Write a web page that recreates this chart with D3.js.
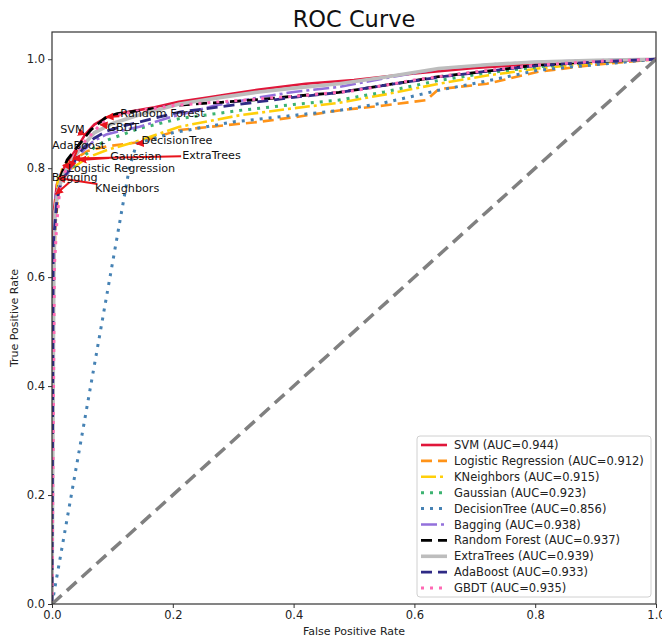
<!DOCTYPE html>
<html>
<head>
<meta charset="utf-8">
<script src="https://cdn.jsdelivr.net/npm/d3@7"></script>
<style>
body { margin: 0; background: #fff; }
svg text { font-family: "DejaVu Sans", sans-serif; }
</style>
</head>
<body>
<div id="roc"></div>
<script>
// models and their AUC
const models = ["SVM", "Logistic Regression", "KNeighbors", "Gaussian", "DecisionTree",
  "Bagging", "Random Forest", "ExtraTrees", "AdaBoost", "GBDT"];
const aucs = [0.944, 0.912, 0.915, 0.923, 0.856, 0.938, 0.937, 0.939, 0.933, 0.935];

// ROC points
const svmFpr = [0, 0.001, 0.003, 0.008, 0.015, 0.025, 0.04, 0.055, 0.07, 0.09, 0.12, 0.17, 0.21, 0.26, 0.3, 0.34, 0.42, 0.5, 0.6, 0.7, 0.8, 0.9, 1];
const svmTpr = [0, 0.6, 0.72, 0.77, 0.79, 0.81, 0.835, 0.862, 0.88, 0.893, 0.902, 0.912, 0.922, 0.93, 0.937, 0.944, 0.955, 0.962, 0.974, 0.984, 0.991, 0.997, 1];
const lrFpr = [0, 0.002, 0.006, 0.012, 0.018, 0.035, 0.06, 0.09, 0.145, 0.211, 0.28, 0.343, 0.41, 0.475, 0.55, 0.62, 0.64, 0.72, 0.805, 0.9, 1];
const lrTpr = [0, 0.58, 0.7, 0.77, 0.805, 0.815, 0.832, 0.84, 0.848, 0.87, 0.878, 0.885, 0.895, 0.906, 0.915, 0.925, 0.945, 0.955, 0.977, 0.99, 1];
const knnFpr = [0, 0.002, 0.005, 0.01, 0.02, 0.04, 0.06, 0.09, 0.145, 0.211, 0.31, 0.4, 0.475, 0.55, 0.64, 0.72, 0.805, 0.9, 1];
const knnTpr = [0, 0.6, 0.72, 0.782, 0.79, 0.805, 0.82, 0.833, 0.851, 0.876, 0.897, 0.91, 0.92, 0.935, 0.955, 0.97, 0.983, 0.993, 1];
const gaussFpr = [0, 0.002, 0.006, 0.012, 0.025, 0.045, 0.07, 0.09, 0.145, 0.211, 0.31, 0.4, 0.475, 0.55, 0.64, 0.72, 0.805, 0.9, 1];
const gaussTpr = [0, 0.6, 0.72, 0.76, 0.79, 0.815, 0.838, 0.851, 0.873, 0.891, 0.906, 0.917, 0.925, 0.94, 0.961, 0.975, 0.986, 0.995, 1];
const dtFpr = [0, 0.128, 0.14, 0.2, 0.3, 0.4, 0.475, 0.55, 0.64, 0.72, 0.805, 0.9, 1];
const dtTpr = [0, 0.8, 0.845, 0.865, 0.885, 0.897, 0.906, 0.92, 0.943, 0.96, 0.98, 0.99, 1];
const bagFpr = [0, 0.002, 0.006, 0.015, 0.031, 0.05, 0.069, 0.09, 0.12, 0.145, 0.2, 0.27, 0.343, 0.4, 0.475, 0.55, 0.64, 0.72, 0.8, 0.9, 1];
const bagTpr = [0, 0.6, 0.752, 0.77, 0.8, 0.83, 0.85, 0.862, 0.87, 0.876, 0.895, 0.915, 0.93, 0.94, 0.949, 0.965, 0.982, 0.99, 0.995, 0.998, 1];
const rfFpr = [0, 0.002, 0.005, 0.009, 0.014, 0.025, 0.042, 0.064, 0.09, 0.108, 0.145, 0.211, 0.28, 0.343, 0.4, 0.475, 0.55, 0.64, 0.72, 0.8, 0.9, 1];
const rfTpr = [0, 0.6, 0.7, 0.754, 0.784, 0.815, 0.839, 0.87, 0.894, 0.9, 0.906, 0.916, 0.921, 0.926, 0.932, 0.939, 0.952, 0.968, 0.978, 0.989, 0.996, 1];
const etFpr = [0, 0.003, 0.005, 0.01, 0.02, 0.035, 0.05, 0.07, 0.1, 0.145, 0.211, 0.28, 0.343, 0.4, 0.475, 0.55, 0.64, 0.72, 0.8, 0.9, 1];
const etTpr = [0, 0.6, 0.72, 0.76, 0.79, 0.818, 0.84, 0.865, 0.882, 0.898, 0.918, 0.93, 0.94, 0.947, 0.955, 0.967, 0.983, 0.99, 0.995, 0.998, 1];
const adaFpr = [0, 0.002, 0.005, 0.008, 0.015, 0.03, 0.05, 0.07, 0.09, 0.12, 0.145, 0.211, 0.28, 0.343, 0.4, 0.475, 0.55, 0.64, 0.72, 0.8, 0.9, 1];
const adaTpr = [0, 0.66, 0.7, 0.74, 0.775, 0.8, 0.835, 0.855, 0.868, 0.878, 0.885, 0.903, 0.913, 0.922, 0.93, 0.939, 0.952, 0.967, 0.978, 0.988, 0.995, 1];
const gbdtFpr = [0, 0.004, 0.008, 0.012, 0.02, 0.035, 0.055, 0.08, 0.1, 0.14, 0.2, 0.28, 0.343, 0.42, 0.5, 0.6, 0.7, 0.8, 0.9, 1];
const gbdtTpr = [0, 0.62, 0.7, 0.75, 0.79, 0.82, 0.85, 0.88, 0.895, 0.905, 0.915, 0.922, 0.927, 0.934, 0.942, 0.962, 0.977, 0.989, 0.996, 1];

// annotated (best threshold) points, same order as models
const bestFpr = [0.055, 0.018, 0.01, 0.045, 0.14, 0.006, 0.09, 0.035, 0.03, 0.08];
const bestTpr = [0.862, 0.805, 0.782, 0.815, 0.845, 0.752, 0.894, 0.818, 0.80, 0.88];

const tickVals = [0, 0.2, 0.4, 0.6, 0.8, 1.0];

// styles
const colors = ["#e0163a", "#ff9318", "#ffcf0a", "#3cb371", "#4682b4", "#9370db", "#000000", "#bdbdbd", "#2f2a85", "#ff69b4"];
const dashes = ["none", "11,6", "15,4,3,4", "3,6", "3,6", "16,4,3,4", "11,6", "none", "11,6", "3,6"];
const widths = [2.6, 2.6, 2.6, 3, 3, 2.6, 2.8, 3.6, 2.8, 3];
// label offsets from the annotated point: [dx to text start, dy to text middle]
const labelOff = [[-25, -5], [5, 3], [37, 10], [31, -4], [5, -4], [-4, -17], [14, -4], [109, -3], [-18, -23], [7, 2]];

const fprs = [svmFpr, lrFpr, knnFpr, gaussFpr, dtFpr, bagFpr, rfFpr, etFpr, adaFpr, gbdtFpr];
const tprs = [svmTpr, lrTpr, knnTpr, gaussTpr, dtTpr, bagTpr, rfTpr, etTpr, adaTpr, gbdtTpr];
const curves = models.map((m, i) => ({
  name: m, auc: aucs[i],
  pts: fprs[i].map((f, j) => [f, tprs[i][j]])
}));

const W = 662, H = 638;
const margin = {top: 32, right: 6, bottom: 34, left: 52};
const width = W - margin.left - margin.right,
      height = H - margin.top - margin.bottom;

const svg = d3.select("#roc").append("svg")
  .attr("width", W).attr("height", H);

svg.append("defs").append("clipPath").attr("id", "clip")
  .append("rect").attr("width", width).attr("height", height);

const marker = svg.select("defs").append("marker")
  .attr("id", "head").attr("viewBox", "0 0 10 10")
  .attr("refX", 9).attr("refY", 5)
  .attr("markerWidth", 4).attr("markerHeight", 4)
  .attr("orient", "auto-start-reverse");
marker.append("path").attr("d", "M0,0 L10,5 L0,10 z").attr("fill", "#e8141c");

const g = svg.append("g")
  .attr("transform", `translate(${margin.left},${margin.top})`);

const x = d3.scaleLinear().domain([0, 1]).range([0, width]);
const y = d3.scaleLinear().domain([0, 1.05]).range([height, 0]);

// axes
const xAxis = g.append("g")
  .attr("transform", `translate(0,${height})`)
  .call(d3.axisBottom(x).tickValues(tickVals).tickFormat(d3.format(".1f")).tickSize(4).tickPadding(3));
const yAxis = g.append("g")
  .call(d3.axisLeft(y).tickValues(tickVals).tickFormat(d3.format(".1f")).tickSize(4).tickPadding(3));
[xAxis, yAxis].forEach(a => {
  a.select(".domain").remove();
  a.selectAll("text").attr("font-size", "11.5px").attr("fill", "#222");
  a.selectAll("line").attr("stroke", "#333");
});

// curves
const line = d3.line().x(d => x(d[0])).y(d => y(d[1]));
const plot = g.append("g").attr("clip-path", "url(#clip)");
plot.selectAll("path.roc")
  .data(curves)
  .join("path")
    .attr("class", "roc")
    .attr("d", d => line(d.pts))
    .attr("fill", "none")
    .attr("stroke", (d, i) => colors[i])
    .attr("stroke-width", (d, i) => widths[i])
    .attr("stroke-dasharray", (d, i) => dashes[i]);

// chance line
plot.append("path")
  .attr("d", line([[0, 0], [1, 1]]))
  .attr("fill", "none")
  .attr("stroke", "#808080")
  .attr("stroke-width", 3.5)
  .attr("stroke-dasharray", "13,7");

// annotations
const ann = g.append("g");
models.forEach((m, i) => {
  const px = x(bestFpr[i]), py = y(bestTpr[i]);
  const t = ann.append("text")
    .attr("x", px + labelOff[i][0])
    .attr("y", py + labelOff[i][1])
    .attr("dy", "0.35em")
    .attr("font-size", "11.2px")
    .attr("fill", "#111")
    .text(m);
  const b = t.node().getBBox();
  // start the arrow at the edge of the text box
  const cx = b.x + b.width / 2, cy = b.y + b.height / 2;
  let dx = px - cx, dy = py - cy;
  let s = 1;
  if (dx !== 0) s = Math.min(s, (b.width / 2 + 1) / Math.abs(dx));
  if (dy !== 0) s = Math.min(s, (b.height / 2 - 2) / Math.abs(dy));
  const sx = cx + dx * s, sy = cy + dy * s;
  if (s < 1) {
    ann.insert("line", "text")
      .attr("x1", sx).attr("y1", sy)
      .attr("x2", px).attr("y2", py)
      .attr("stroke", "#e8141c")
      .attr("stroke-width", 2)
      .attr("marker-end", "url(#head)");
  }
});

// frame
g.append("rect")
  .attr("width", width).attr("height", height)
  .attr("fill", "none").attr("stroke", "#333").attr("stroke-width", 1.2);

// title and axis labels
svg.append("text")
  .attr("x", margin.left + width / 2).attr("y", 27)
  .attr("text-anchor", "middle")
  .attr("font-size", "22.5px").attr("fill", "#111")
  .text("ROC Curve");
svg.append("text")
  .attr("x", margin.left + width / 2).attr("y", 635)
  .attr("text-anchor", "middle")
  .attr("font-size", "11px").attr("fill", "#222")
  .text("False Positive Rate");
svg.append("text")
  .attr("transform", `translate(18,${margin.top + y(0.525)}) rotate(-90)`)
  .attr("text-anchor", "middle")
  .attr("font-size", "11px").attr("fill", "#222")
  .text("True Positive Rate");

// legend
const leg = svg.append("g").attr("transform", "translate(417,436)");
leg.append("rect")
  .attr("width", 234).attr("height", 161)
  .attr("rx", 3)
  .attr("fill", "#fff").attr("fill-opacity", 0.9)
  .attr("stroke", "#d0d0d0");
const item = leg.selectAll("g.item")
  .data(curves)
  .join("g")
    .attr("class", "item")
    .attr("transform", (d, i) => `translate(0,${9 + i * 15.9})`);
item.append("line")
  .attr("x1", 4).attr("x2", 30)
  .attr("stroke", (d, i) => colors[i])
  .attr("stroke-width", (d, i) => widths[i])
  .attr("stroke-dasharray", (d, i) => dashes[i]);
item.append("text")
  .attr("x", 37).attr("dy", "0.35em")
  .attr("font-size", "11.5px").attr("fill", "#222")
  .text(d => `${d.name} (AUC=${d3.format(".3f")(d.auc)})`);
</script>
</body>
</html>
